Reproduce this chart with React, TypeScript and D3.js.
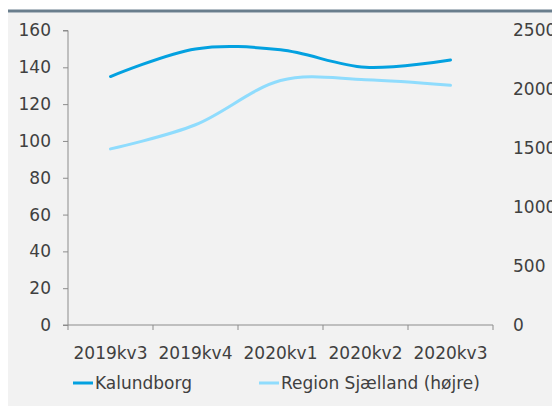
import * as d3 from "d3";
import { useEffect, useRef } from "react";

const categories = ["2019kv3", "2019kv4", "2020kv1", "2020kv2", "2020kv3"];
const kalundborg = [135, 150, 149.5, 140, 144];
const regionSjaelland = [1495, 1700, 2075, 2082, 2035];
const leftTicks = [0, 20, 40, 60, 80, 100, 120, 140, 160];
const rightTicks = [0, 500, 1000, 1500, 2000, 2500];

export default function App() {
  const ref = useRef<SVGSVGElement>(null);

  useEffect(() => {
    const width = 560;
    const height = 414;
    const plotLeft = 68;
    const plotRight = 493;
    const plotTop = 30.5;
    const plotBottom = 325;
    const textColor = "#404040";
    const axisColor = "#8c8c8c";
    const font = "DejaVu Sans, sans-serif";
    const fontSize = 17;

    const svg = d3.select(ref.current);
    svg.selectAll("*").remove();
    svg.attr("width", width).attr("height", height);

    // background panel and top rule
    svg.append("rect").attr("x", 3).attr("y", 12.5).attr("width", width - 3).attr("height", 401).attr("fill", "#f2f2f2");
    svg.append("rect").attr("x", 3).attr("y", 9.5).attr("width", width - 3).attr("height", 3).attr("fill", "#6a7e8d");

    const x = d3.scaleBand().domain(categories).range([plotLeft, plotRight]);
    const yLeft = d3.scaleLinear().domain([0, 160]).range([plotBottom, plotTop]);
    const yRight = d3.scaleLinear().domain([0, 2500]).range([plotBottom, plotTop]);

    // left axis
    const gl = svg.append("g").attr("transform", `translate(${plotLeft},0)`)
      .call(d3.axisLeft(yLeft).tickValues(leftTicks).tickSize(5).tickPadding(12));
    gl.select(".domain").attr("stroke", axisColor).attr("d", `M-5,${plotTop}H0V${plotBottom}`);
    gl.selectAll(".tick line").attr("stroke", axisColor);
    gl.selectAll(".tick text").attr("fill", textColor).attr("font-size", fontSize).attr("font-family", font);

    // right axis labels only
    const gr = svg.append("g").attr("transform", `translate(${plotRight + 20},0)`)
      .call(d3.axisRight(yRight).tickValues(rightTicks).tickFormat(d3.format("d")).tickSize(0).tickPadding(0));
    gr.select(".domain").remove();
    gr.selectAll(".tick text").attr("fill", textColor).attr("font-size", fontSize).attr("font-family", font);

    // x axis
    const gx = svg.append("g").attr("transform", `translate(0,${plotBottom})`);
    gx.append("line").attr("x1", plotLeft - 5).attr("x2", plotRight).attr("stroke", axisColor);
    const bounds = categories.map((c) => x(c) as number).concat([plotRight]);
    gx.selectAll("line.tk").data(bounds).join("line").attr("class", "tk")
      .attr("x1", (d) => d).attr("x2", (d) => d).attr("y1", 0).attr("y2", 5).attr("stroke", axisColor);
    gx.selectAll("text").data(categories).join("text")
      .attr("x", (d) => (x(d) as number) + x.bandwidth() / 2).attr("y", 34)
      .attr("text-anchor", "middle").attr("fill", textColor).attr("font-size", fontSize).attr("font-family", font)
      .text((d) => d);

    const cx = (i: number) => (x(categories[i]) as number) + x.bandwidth() / 2;

    const line1 = d3.line<number>().x((_, i) => cx(i)).y((d) => yLeft(d)).curve(d3.curveCardinal.tension(0));
    const line2 = d3.line<number>().x((_, i) => cx(i)).y((d) => yRight(d)).curve(d3.curveCardinal.tension(0));

    svg.append("path").attr("d", line2(regionSjaelland)).attr("fill", "none").attr("stroke", "#8fdcfd").attr("stroke-width", 3).attr("stroke-linecap", "round");
    svg.append("path").attr("d", line1(kalundborg)).attr("fill", "none").attr("stroke", "#03a1e0").attr("stroke-width", 3).attr("stroke-linecap", "round");

    // legend
    const legend = [
      { name: "Kalundborg", color: "#03a1e0", x: 73 },
      { name: "Region Sjælland (højre)", color: "#8fdcfd", x: 259 },
    ];
    const lg = svg.append("g");
    legend.forEach((l) => {
      lg.append("line").attr("x1", l.x).attr("x2", l.x + 20).attr("y1", 383).attr("y2", 383).attr("stroke", l.color).attr("stroke-width", 3);
      lg.append("text").attr("x", l.x + 22).attr("y", 389).attr("fill", textColor).attr("font-size", fontSize).attr("font-family", font).text(l.name);
    });
  }, []);

  return (
    <div style={{ margin: -8 }}>
      <svg ref={ref} style={{ display: "block" }}></svg>
    </div>
  );
}
